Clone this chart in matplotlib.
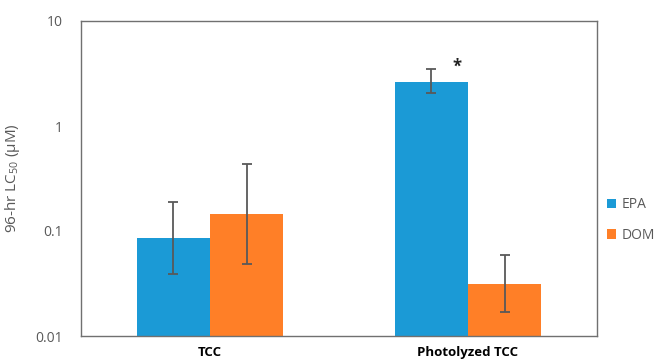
import numpy as np
import matplotlib
matplotlib.use("Agg")
import matplotlib.pyplot as plt

plt.rcParams['font.family'] = ['Open Sans', 'DejaVu Sans']
plt.rcParams['mathtext.fontset'] = 'custom'
plt.rcParams['mathtext.rm'] = 'Open Sans'
plt.rcParams['mathtext.default'] = 'regular'

# data
categories = ["TCC", "Photolyzed TCC"]
epa = [0.0857, 2.63]
epa_lo = [0.039, 2.06]
epa_hi = [0.189, 3.49]
dom = [0.145, 0.0313]
dom_lo = [0.0485, 0.0169]
dom_hi = [0.434, 0.059]

blue = "#1B9AD6"
orange = "#FF7F27"
grey = "#595959"

fig = plt.figure(figsize=(6.54, 3.64), dpi=100)
ax = fig.add_axes([81/654, 28/364, 516/654, 315/364])

x = np.arange(len(categories))
w = 0.283

def errs(v, lo, hi):
    v = np.array(v)
    return [v - np.array(lo), np.array(hi) - v]

ax.bar(x - w/2, epa, w, color=blue, label="EPA", zorder=2)
ax.bar(x + w/2, dom, w, color=orange, label="DOM", zorder=2)
ax.errorbar(x - w/2, epa, yerr=errs(epa, epa_lo, epa_hi), fmt="none",
            ecolor=grey, elinewidth=1.3, capsize=3.5, capthick=1.3, zorder=3)
ax.errorbar(x + w/2, dom, yerr=errs(dom, dom_lo, dom_hi), fmt="none",
            ecolor=grey, elinewidth=1.3, capsize=3.5, capthick=1.3, zorder=3)

ax.text(x[1] - w/2 + 0.10, 3.7, "*", fontsize=12, ha="center", va="center",
        fontweight="bold", color="#222222")

ax.set_yscale("log")
ax.set_ylim(0.01, 10)
ax.set_xlim(-0.5, 1.5)
ax.set_yticks([0.01, 0.1, 1, 10])
ax.set_yticklabels(["0.01", "0.1", "1", "10"])
ax.minorticks_off()
ax.tick_params(axis="y", length=0, pad=13, labelsize=10, labelcolor=grey)
ax.set_xticks(x)
ax.set_xticklabels(categories, fontweight="bold", fontsize=9.5)
ax.tick_params(axis="x", length=0, pad=7)
for s in ax.spines.values():
    s.set_color("#707070")
    s.set_linewidth(1.0)

ax.set_ylabel("96-hr LC$_{50}$ (µM)", fontsize=11, color=grey)
ax.yaxis.set_label_coords(-59/516, 0.5)

ax.legend(loc="center left", bbox_to_anchor=(1.0, 0.368), frameon=False,
          handlelength=0.7, handleheight=0.7, handletextpad=0.4,
          labelspacing=1.1, fontsize=10, labelcolor=grey, borderaxespad=0.3)

fig.savefig("out.png", dpi=100)
